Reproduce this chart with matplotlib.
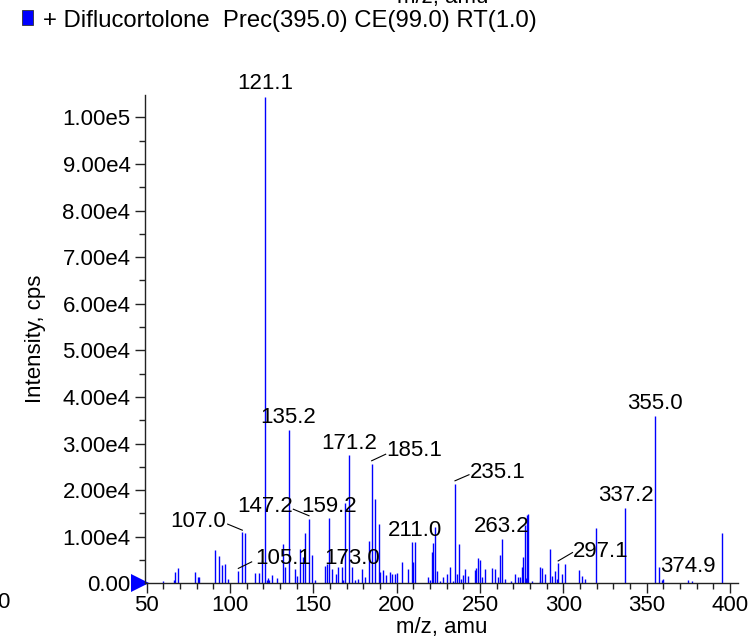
import matplotlib
matplotlib.use("Agg")
import matplotlib.pyplot as plt
from matplotlib.ticker import FuncFormatter, MultipleLocator
from matplotlib.transforms import blended_transform_factory
import matplotlib.patches as mpatches

plt.rcParams['font.family'] = ['Liberation Sans', 'DejaVu Sans']

# ---- data (m/z, intensity in cps) ----
mz = [59.6, 66.6, 67.2, 69.0, 79.2, 80.8, 81.4, 91.2, 93.2, 95.2, 97.0, 99.0,
      105.1, 107.0, 109.2, 115.2, 117.2, 119.2, 121.1, 122.0, 122.8, 123.6, 125.2,
      128.4, 132.0, 133.2, 135.2, 139.0, 140.0, 142.2, 143.7, 145.2, 147.2, 149.2,
      151.2, 157.0, 158.2, 159.2, 161.0, 163.4, 165.0, 167.0, 168.0, 169.2, 171.2,
      173.0, 175.2, 177.0, 179.2, 181.2, 183.2, 185.1, 187.2, 189.2, 190.2, 192.0,
      193.4, 196.0, 197.4, 199.0, 200.2, 203.0, 207.0, 209.0, 210.0, 211.0, 219.0,
      220.0, 221.2, 222.0, 223.0, 224.0, 226.0, 228.0, 230.0, 232.2, 234.0, 235.1,
      236.2, 237.2, 238.8, 239.8, 241.2, 242.8, 246.8, 247.8, 248.8, 249.8, 251.2,
      253.2, 257.4, 259.2, 260.8, 262.2, 263.2, 265.0, 268.4, 271.2, 273.0, 274.2,
      275.0, 275.6, 276.8, 277.4, 278.2, 278.8, 281.2, 285.8, 286.2, 287.0, 289.2,
      292.0, 293.2, 295.0, 296.0, 297.1, 299.2, 301.2, 309.4, 311.4, 313.0, 319.4,
      337.2, 355.0, 357.4, 359.0, 359.6, 374.9, 377.2, 395.0]
intensity_e4 = [0.05, 0.08, 0.25, 0.33, 0.25, 0.14, 0.13, 0.71, 0.59, 0.39, 0.41, 0.09,
                0.26, 1.11, 1.09, 0.23, 0.23, 0.50, 10.44, 0.07, 0.12, 0.07, 0.18,
                0.11, 0.84, 0.36, 3.29, 0.31, 0.16, 0.73, 0.57, 1.09, 1.38, 0.61,
                0.08, 0.37, 0.41, 1.40, 0.30, 0.21, 0.36, 0.36, 0.07, 1.72, 2.75,
                0.36, 0.08, 0.10, 0.31, 0.13, 0.91, 2.57, 1.81, 1.27, 0.25, 0.29,
                0.18, 0.24, 0.21, 0.21, 0.22, 0.45, 0.30, 0.89, 0.46, 0.89, 0.13,
                0.08, 0.68, 0.86, 1.20, 0.26, 0.05, 0.13, 0.21, 0.36, 0.05, 2.13,
                0.20, 0.84, 0.10, 0.18, 0.31, 0.16, 0.29, 0.33, 0.54, 0.49, 0.13,
                0.31, 0.33, 0.31, 0.13, 0.61, 0.95, 0.10, 0.05, 0.21, 0.13, 0.13,
                0.35, 0.57, 1.25, 0.12, 1.47, 1.49, 0.05, 0.05, 0.35, 0.33, 0.21,
                0.73, 0.16, 0.26, 0.10, 0.44, 0.19, 0.41, 0.29, 0.16, 0.10, 1.18,
                1.61, 3.60, 0.36, 0.08, 0.10, 0.08, 0.05, 1.07]
intensity = [v * 1e4 for v in intensity_e4]

legend_text = '+ Diflucortolone  Prec(395.0) CE(99.0) RT(1.0)'
x_label = 'm/z, amu'
y_label = 'Intensity, cps'
x_ticks = [50, 100, 150, 200, 250, 300, 350, 400]
y_ticks = [0, 1e4, 2e4, 3e4, 4e4, 5e4, 6e4, 7e4, 8e4, 9e4, 1e5]

# ---- figure ----
W, H = 751, 642
fig = plt.figure(figsize=(W / 100, H / 100), dpi=100)
ax = fig.add_axes([145 / W, (H - 583.3) / H, (738 - 145) / W, (583.3 - 95) / H])

ax.vlines(mz, 0, intensity, colors='#0000ff', linewidth=1.0)

ax.set_xlim(49.0, 404.8)
ax.set_ylim(0, 1.048e5)

for s in ['top', 'right']:
    ax.spines[s].set_visible(False)
for s in ['left', 'bottom']:
    ax.spines[s].set_linewidth(1.0)
    ax.spines[s].set_color('#222222')

FS = 16
ax.set_xticks(x_ticks)
ax.set_yticks(y_ticks)
ax.xaxis.set_minor_locator(MultipleLocator(10))
ax.yaxis.set_minor_locator(MultipleLocator(5e3))


def yfmt(v, pos):
    if v == 0:
        return '0.00'
    m, e = f'{v:.2e}'.split('e')
    return f'{m}e{int(e)}'


ax.yaxis.set_major_formatter(FuncFormatter(yfmt))
ax.tick_params(axis='both', which='major', length=7, width=1, labelsize=FS, color='#222222')
ax.tick_params(axis='both', which='minor', length=4, width=1, color='#222222')
ax.tick_params(axis='x', which='major', pad=1.5)
ax.tick_params(axis='y', which='major', pad=3.5)

ax.set_xlabel(x_label, fontsize=FS, labelpad=1)
ax.set_ylabel(y_label, fontsize=FS, labelpad=12)

# blue triangle marker at baseline
tr = blended_transform_factory(ax.transAxes, ax.transData)
ax.plot([-0.009], [0], marker='>', markersize=13, color='#0000ff', transform=tr,
        clip_on=False, markeredgewidth=0)

# annotations: (text, x, y, ha, leader)
ann = [
    ('121.1', 121.0, 10.72e4, 'center', None),
    ('135.2', 134.8, 3.55e4, 'center', None),
    ('171.2', 171.4, 3.01e4, 'center', None),
    ('185.1', 193.7, 2.84e4, 'left', ((185.0, 2.63e4), (193.4, 2.77e4))),
    ('235.1', 243.9, 2.37e4, 'left', ((235.0, 2.20e4), (243.4, 2.33e4))),
    ('355.0', 355.0, 3.85e4, 'center', None),
    ('337.2', 337.4, 1.89e4, 'center', None),
    ('263.2', 263.0, 1.21e4, 'center', None),
    ('211.0', 211.0, 1.14e4, 'center', None),
    ('297.1', 305.9, 0.68e4, 'left', ((296.9, 0.48e4), (305.5, 0.66e4))),
    ('374.9', 374.7, 0.37e4, 'center', None),
    ('173.0', 173.5, 0.54e4, 'center', None),
    ('105.1', 115.0, 0.54e4, 'left', ((105.0, 0.32e4), (113.0, 0.46e4))),
    ('107.0', 97.9, 1.32e4, 'right', ((98.6, 1.27e4), (107.4, 1.14e4))),
    ('147.2', 137.8, 1.64e4, 'right', ((138.0, 1.59e4), (147.4, 1.45e4))),
    ('159.2', 159.4, 1.64e4, 'center', None),
]
for txt, x, y, ha, leader in ann:
    ax.text(x, y, txt, ha=ha, va='center', fontsize=FS, clip_on=False, color='black')
    if leader is not None:
        (x0, y0), (x1, y1) = leader
        ax.plot([x0, x1], [y0, y1], color='black', linewidth=0.8, clip_on=False)

# legend
fig.patches.append(mpatches.Rectangle((22 / W, (H - 25) / H), 11 / W, 15 / H,
                                      transform=fig.transFigure, facecolor='#0000ff',
                                      edgecolor='#333333', linewidth=0.6))
fig.text(43 / W, (H - 21) / H, legend_text, fontsize=17.2, va='center', ha='left')

# clipped remnants at the edges
fig.text(443 / W, (H - 3) / H, x_label, fontsize=FS, va='baseline', ha='center')
fig.text(9 / W, (H - 602) / H, '0', fontsize=FS, va='center', ha='right')

fig.savefig('out.png', dpi=100)
